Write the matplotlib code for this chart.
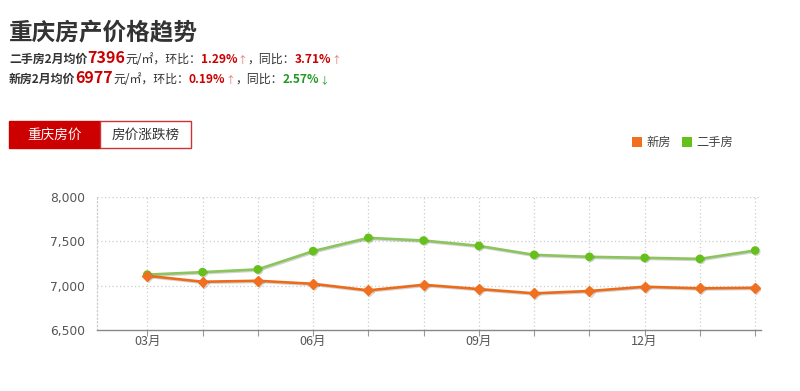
import matplotlib
matplotlib.use("Agg")
import matplotlib.pyplot as plt
import matplotlib.patheffects as pe
from matplotlib.patches import Rectangle

plt.rcParams['font.family'] = ['Noto Sans CJK SC', 'DejaVu Sans']

months = ['03月', '04月', '05月', '06月', '07月', '08月', '09月', '10月', '11月', '12月', '01月', '02月']
new_house = [7112, 7045, 7056, 7022, 6948, 7011, 6963, 6915, 6941, 6989, 6971, 6977]
second_hand = [7125, 7153, 7184, 7389, 7538, 7508, 7448, 7347, 7325, 7314, 7302, 7396]
yticks = [6500, 7000, 7500, 8000]
label_idx = [0, 3, 6, 9]

W, H = 800, 391
fig = plt.figure(figsize=(W / 100, H / 100), dpi=100)
renderer = fig.canvas.get_renderer()


def fx(px):
    return px / W


def fy(py):
    return 1 - py / H


def seq_text(x, y, pieces):
    for s, size, color, weight in pieces:
        t = fig.text(fx(x), fy(y), s, fontsize=size, color=color, fontweight=weight,
                     va='baseline', ha='left')
        bb = t.get_window_extent(renderer)
        x += bb.width


DARK = '#333333'
RED = '#cc0000'
GREEN = '#229922'
ARR = '#e07070'

fig.text(fx(9), fy(40), '重庆房产价格趋势', fontsize=17, fontweight='bold', color=DARK,
         va='baseline', ha='left')

seq_text(9, 63, [('二手房2月均价', 8.6, DARK, 'bold'), ('7396', 11.6, RED, 'bold'),
                 ('元/㎡，环比：', 8.6, DARK, 'normal'), ('1.29%', 8.6, RED, 'bold'),
                 ('↑', 7, ARR, 'normal'), ('，同比：', 8.6, DARK, 'normal'),
                 ('3.71%', 8.6, RED, 'bold'), ('↑', 7, ARR, 'normal')])
seq_text(9, 83, [('新房2月均价', 8.6, DARK, 'bold'), ('6977', 11.6, RED, 'bold'),
                 ('元/㎡，环比：', 8.6, DARK, 'normal'), ('0.19%', 8.6, RED, 'bold'),
                 ('↑', 7, ARR, 'normal'), ('，同比：', 8.6, DARK, 'normal'),
                 ('2.57%', 8.6, GREEN, 'bold'), ('↓', 7, GREEN, 'normal')])

# tabs
fig.patches.append(Rectangle((fx(9), fy(148)), fx(100) - fx(9), fy(121) - fy(148),
                             transform=fig.transFigure, facecolor='#cc0000',
                             edgecolor='#cc0000', lw=1))
fig.patches.append(Rectangle((fx(100), fy(148)), fx(191) - fx(100), fy(121) - fy(148),
                             transform=fig.transFigure, facecolor='white',
                             edgecolor='#cc3333', lw=1))
fig.text(fx(55), fy(135), '重庆房价', fontsize=9.8, color='white', ha='center', va='center')
fig.text(fx(146), fy(135), '房价涨跌榜', fontsize=9.8, color=DARK, ha='center', va='center')

# legend
ORANGE = '#ec6b1a'
ORANGE_M = '#f07020'
GREEN_L = '#8cc45e'
GREEN_M = '#66c01a'
fig.patches.append(Rectangle((fx(632), fy(147)), fx(10), 10 / H, transform=fig.transFigure,
                             facecolor=ORANGE_M, edgecolor='none'))
fig.text(fx(646), fy(142), '新房', fontsize=8.8, color='#444444', va='center', ha='left')
fig.patches.append(Rectangle((fx(682), fy(147)), fx(10), 10 / H, transform=fig.transFigure,
                             facecolor=GREEN_M, edgecolor='none'))
fig.text(fx(696), fy(142), '二手房', fontsize=8.8, color='#444444', va='center', ha='left')

# axes
ax = fig.add_axes([fx(97.3), fy(330.3), fx(760.7) - fx(97.3), fy(196.7) - fy(330.3)])
x = list(range(len(months)))
shadow = [pe.SimpleLineShadow(offset=(0.8, -0.8), alpha=0.25, shadow_color='#555555'), pe.Normal()]
ax.plot(x, second_hand, color=GREEN_L, lw=1.9, marker='o', markersize=5.2,
        markerfacecolor=GREEN_M, markeredgecolor=GREEN_M, zorder=3, path_effects=shadow)
ax.plot(x, new_house, color=ORANGE, lw=1.9, marker='D', markersize=5,
        markerfacecolor=ORANGE_M, markeredgecolor=ORANGE_M, zorder=4, path_effects=shadow)

ax.set_xlim(-0.905, 11.1)
ax.set_ylim(6500, 8000)
ax.set_yticks(yticks)
ax.set_yticklabels([f'{v:,}' for v in yticks])
ax.set_xticks(x)
ax.set_xticklabels([months[i] if i in label_idx else '' for i in x])
ax.tick_params(axis='y', length=0, pad=9, labelsize=8.8, labelcolor='#555555')
ax.tick_params(axis='x', length=4, width=0.8, color='#999999', pad=-1, labelsize=9,
               labelcolor='#555555')
for v in yticks[1:]:
    ax.axhline(v, color='#cccccc', lw=0.9, ls=(0, (1, 2)), zorder=1)
for i in x:
    ax.axvline(i, color='#cccccc', lw=0.9, ls=(0, (1, 2)), zorder=1)
for s in ['top', 'right']:
    ax.spines[s].set_visible(False)
ax.spines['left'].set_color('#cccccc')
ax.spines['left'].set_linestyle((0, (1, 2)))
ax.spines['left'].set_linewidth(0.9)
ax.spines['bottom'].set_color('#888888')
ax.spines['bottom'].set_linewidth(1)
for t in ax.get_yticklabels():
    t.set_family(['DejaVu Sans'])

fig.savefig('out.png', dpi=100)
